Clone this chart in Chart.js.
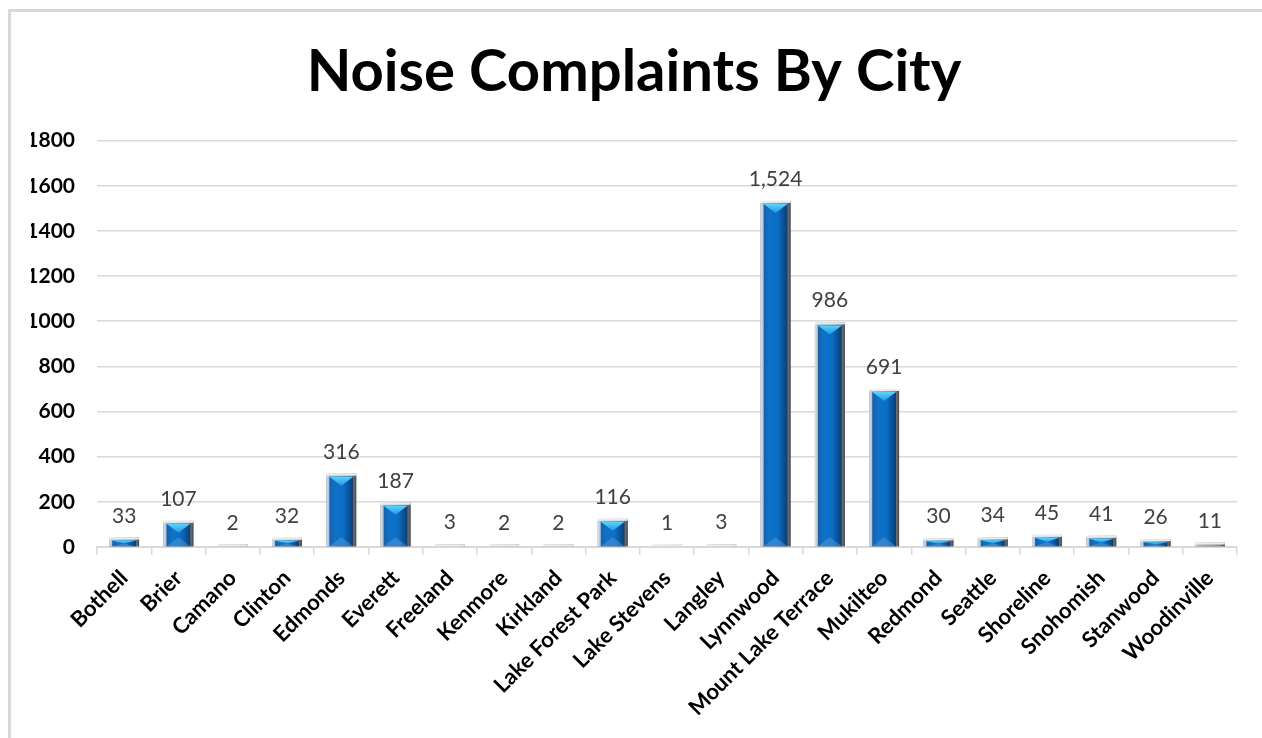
<!DOCTYPE html>
<html>
<head>
<meta charset="utf-8">
<script src="https://cdn.jsdelivr.net/npm/chart.js@4"></script>
<style>
  html, body { margin: 0; padding: 0; background: #fff; overflow: hidden; }
  #frame { position: absolute; left: 8px; top: 9px; width: 2000px; height: 2000px;
           border-left: 3px solid #d9d9d9; border-top: 3px solid #d9d9d9; }
  #wrap { position: absolute; left: 0; top: 0; width: 1262px; height: 738px; }
</style>
</head>
<body>
<div id="frame"></div>
<div id="wrap"><canvas id="myChart"></canvas></div>
<script>
var cities = ["Bothell", "Brier", "Camano", "Clinton", "Edmonds", "Everett", "Freeland",
  "Kenmore", "Kirkland", "Lake Forest Park", "Lake Stevens", "Langley", "Lynnwood",
  "Mount Lake Terrace", "Mukilteo", "Redmond", "Seattle", "Shoreline", "Snohomish",
  "Stanwood", "Woodinville"];
var complaints = [33, 107, 2, 32, 316, 187, 3, 2, 2, 116, 1, 3, 1524, 986, 691, 30, 34, 45, 41, 26, 11];
var yTicks = [0, 200, 400, 600, 800, 1000, 1200, 1400, 1600, 1800];

// excel-like bevel look drawn over each bar the library laid out
var bevelBars = {
  id: 'bevelBars',
  afterDatasetsDraw: function(chart) {
    var ctx = chart.ctx;
    chart.getDatasetMeta(0).data.forEach(function(bar) {
      var w = bar.width, l = bar.x - w / 2, r = bar.x + w / 2, t = bar.y, b = bar.base;
      var h = b - t;
      ctx.save();
      // gray rim
      var g = ctx.createLinearGradient(l, 0, r, 0);
      g.addColorStop(0, '#e0e0e0');
      g.addColorStop(0.12, '#b5b5b5');
      g.addColorStop(0.85, '#8a8a8a');
      g.addColorStop(1, '#4a4a4a');
      ctx.fillStyle = g;
      ctx.fillRect(l, t - 2, w, h + 2);
      ctx.fillStyle = '#ececec';
      ctx.fillRect(l, t - 2, w, 2);
      if (h > 3) {
        var il = l + 3, ir = r - 3, it = t + 1;
        var bg = ctx.createLinearGradient(il, 0, ir, 0);
        bg.addColorStop(0, '#1a60aa');
        bg.addColorStop(0.25, '#0f72c8');
        bg.addColorStop(0.6, '#0a6ec4');
        bg.addColorStop(1, '#063f7a');
        ctx.fillStyle = bg;
        ctx.fillRect(il, it, ir - il, b - it);
        var ch = Math.min(9, (b - it) / 2);
        // top chevron
        var cg = ctx.createLinearGradient(0, it, 0, it + ch);
        cg.addColorStop(0, '#5fd3fa');
        cg.addColorStop(1, '#1a9ae0');
        ctx.fillStyle = cg;
        ctx.beginPath();
        ctx.moveTo(il, it); ctx.lineTo(ir, it); ctx.lineTo(bar.x, it + ch); ctx.closePath();
        ctx.fill();
        // bottom chevron
        ctx.fillStyle = 'rgba(90,160,225,0.45)';
        ctx.beginPath();
        ctx.moveTo(il, b); ctx.lineTo(ir, b); ctx.lineTo(bar.x, b - ch); ctx.closePath();
        ctx.fill();
      }
      ctx.restore();
    });
  }
};

var valueLabels = {
  id: 'valueLabels',
  afterDatasetsDraw: function(chart) {
    var ctx = chart.ctx;
    var ds = chart.data.datasets[0];
    ctx.save();
    ctx.font = '21px Lato';
    ctx.fillStyle = '#404040';
    ctx.textAlign = 'center';
    ctx.textBaseline = 'alphabetic';
    chart.getDatasetMeta(0).data.forEach(function(bar, i) {
      ctx.fillText(ds.data[i].toLocaleString('en-US'), bar.x, bar.y - 17);
    });
    ctx.restore();
  }
};

var ctx = document.getElementById("myChart");
var myChart = new Chart(ctx, {
  type: 'bar',
  data: {
    labels: cities,
    datasets: [{
      label: 'Complaints',
      data: complaints,
      backgroundColor: '#0b6cc2',
      borderWidth: 0,
      barPercentage: 0.55,
      categoryPercentage: 1
    }]
  },
  options: {
    responsive: true,
    maintainAspectRatio: false,
    animation: false,
    layout: { padding: { left: 31, right: 25, top: 0, bottom: 0 } },
    plugins: {
      legend: { display: false },
      tooltip: { enabled: false },
      title: {
        display: true,
        text: 'Noise Complaints By City',
        color: '#000',
        font: { family: 'Lato', size: 58, weight: 'bold' },
        padding: { top: 37, bottom: 34 }
      }
    },
    scales: {
      x: {
        grid: { offset: true, drawOnChartArea: false, color: '#d9d9d9', lineWidth: 1.5, tickLength: 8 },
        border: { color: '#d9d9d9', width: 2 },
        ticks: {
          color: '#000',
          font: { family: 'Lato', size: 22, weight: 'bold' },
          minRotation: 45, maxRotation: 45, autoSkip: false, padding: 10
        },
        afterFit: function(scale) { scale.height = 191; }
      },
      y: {
        min: 0, max: 1800,
        afterBuildTicks: function(scale) { scale.ticks = yTicks.map(function(v) { return { value: v }; }); },
        grid: { color: '#d9d9d9', lineWidth: 1.5, drawTicks: false },
        border: { display: false },
        ticks: {
          color: '#000',
          font: { family: 'Lato', size: 21, weight: 'bold' },
          padding: 22,
          callback: function(v) { return String(v); }
        },
        afterFit: function(scale) { scale.width = 66; }
      }
    }
  },
  plugins: [bevelBars, valueLabels]
});
</script>
</body>
</html>
